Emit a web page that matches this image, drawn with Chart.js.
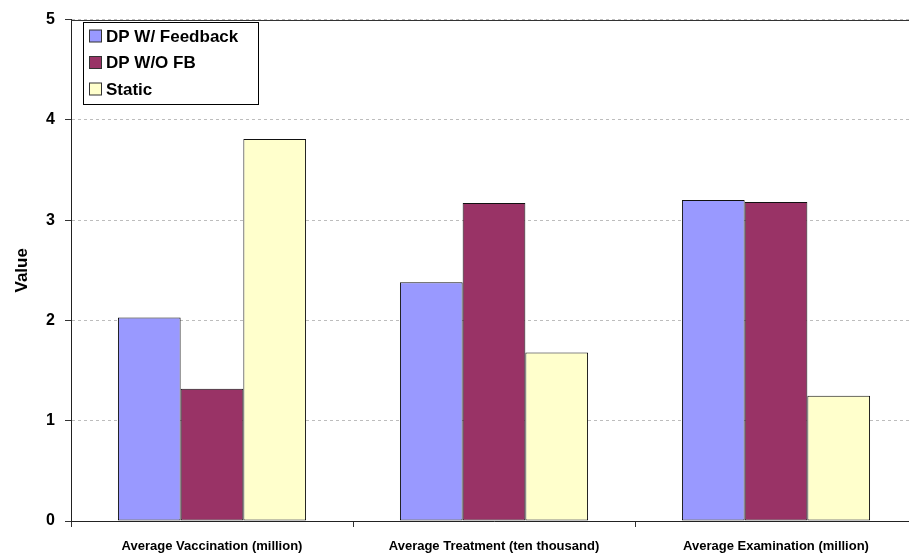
<!DOCTYPE html>
<html>
<head>
<meta charset="utf-8">
<script src="https://cdn.jsdelivr.net/npm/chart.js@4/dist/chart.umd.min.js"></script>
<style>
  html, body { margin: 0; padding: 0; background: #fff; overflow: hidden; }
  #wrap { width: 920px; height: 556px; }
</style>
</head>
<body>
<div id="wrap"><canvas id="chart" width="920" height="556"></canvas></div>
<script>
const categories = [
  'Average Vaccination (million)',
  'Average Treatment (ten thousand)',
  'Average Examination (million)'
];
const seriesNames = ['DP W/ Feedback', 'DP W/O FB', 'Static'];
const dpFeedback = [2.03, 2.38, 3.20];
const dpNoFeedback = [1.32, 3.17, 3.18];
const staticPlan = [3.81, 1.68, 1.25];
const yTicks = [0, 1, 2, 3, 4, 5];

const colors = ['#9999FF', '#993366', '#FFFFCC'];
const FONT = '"Liberation Sans", Arial, sans-serif';

// boxed legend in the upper left corner of the plot
const boxLegend = {
  id: 'boxLegend',
  afterDraw(chart) {
    const ctx = chart.ctx;
    const x = 83.5, y = 22.5, w = 175, h = 82;
    ctx.save();
    ctx.fillStyle = '#fff';
    ctx.fillRect(x, y, w, h);
    ctx.strokeStyle = '#000';
    ctx.lineWidth = 1;
    ctx.strokeRect(x, y, w, h);
    ctx.font = 'bold 17px ' + FONT;
    ctx.textBaseline = 'middle';
    chart.data.datasets.forEach((ds, i) => {
      const cy = 36 + i * 26.5;
      ctx.fillStyle = ds.backgroundColor;
      ctx.fillRect(89.5, cy - 6, 12, 12);
      ctx.strokeStyle = '#333';
      ctx.strokeRect(89.5, cy - 6, 12, 12);
      ctx.fillStyle = '#000';
      ctx.fillText(ds.label, 106, cy + 1);
    });
    ctx.restore();
  }
};

// white page plus the solid frame line along the top of the plot
const frame = {
  id: 'frame',
  beforeDraw(chart) {
    const ctx = chart.ctx;
    ctx.save();
    ctx.fillStyle = '#fff';
    ctx.fillRect(0, 0, chart.width, chart.height);
    ctx.restore();
  },
  beforeDatasetsDraw(chart) {
    const { ctx, chartArea } = chart;
    const y = Math.round(chartArea.top) + 0.5;
    ctx.save();
    ctx.strokeStyle = '#333';
    ctx.lineWidth = 1;
    ctx.beginPath();
    ctx.moveTo(chartArea.left, y);
    ctx.lineTo(chartArea.right, y);
    ctx.stroke();
    ctx.restore();
  }
};

new Chart(document.getElementById('chart'), {
  type: 'bar',
  data: {
    labels: categories,
    datasets: [dpFeedback, dpNoFeedback, staticPlan].map((vals, i) => ({
      label: seriesNames[i],
      data: vals,
      backgroundColor: colors[i],
      borderColor: '#111',
      borderWidth: 1,
      borderSkipped: false,
      categoryPercentage: 0.667,
      barPercentage: 1.0
    }))
  },
  options: {
    responsive: false,
    animation: false,
    layout: { padding: { top: 19, right: 3, bottom: 0, left: 0 } },
    plugins: {
      legend: { display: false },
      tooltip: { enabled: false }
    },
    scales: {
      x: {
        grid: {
          offset: true,
          drawOnChartArea: false,
          drawTicks: true,
          tickLength: 6,
          tickColor: '#333'
        },
        border: { color: '#222', width: 1 },
        ticks: {
          color: '#000',
          padding: 12,
          maxRotation: 0,
          font: { family: FONT, size: 13, weight: 'bold' }
        },
        afterFit(scale) { scale.height = 35; }
      },
      y: {
        min: yTicks[0],
        max: yTicks[yTicks.length - 1],
        afterBuildTicks(scale) { scale.ticks = yTicks.map(v => ({ value: v })); },
        grid: {
          color: '#bdbdbd',
          tickBorderDash: [],
          tickColor: '#333',
          tickLength: 6
        },
        // in v4 the dash here styles the grid lines
        border: { color: '#222', width: 1, dash: [3, 3] },
        ticks: {
          color: '#000',
          padding: 10,
          font: { family: FONT, size: 16, weight: 'bold' }
        },
        title: {
          display: true,
          text: 'Value',
          color: '#000',
          padding: { top: 12, bottom: 0 },
          font: { family: FONT, size: 17, weight: 'bold' }
        },
        afterFit(scale) { scale.width = 71; }
      }
    }
  },
  plugins: [frame, boxLegend]
});
</script>
</body>
</html>
